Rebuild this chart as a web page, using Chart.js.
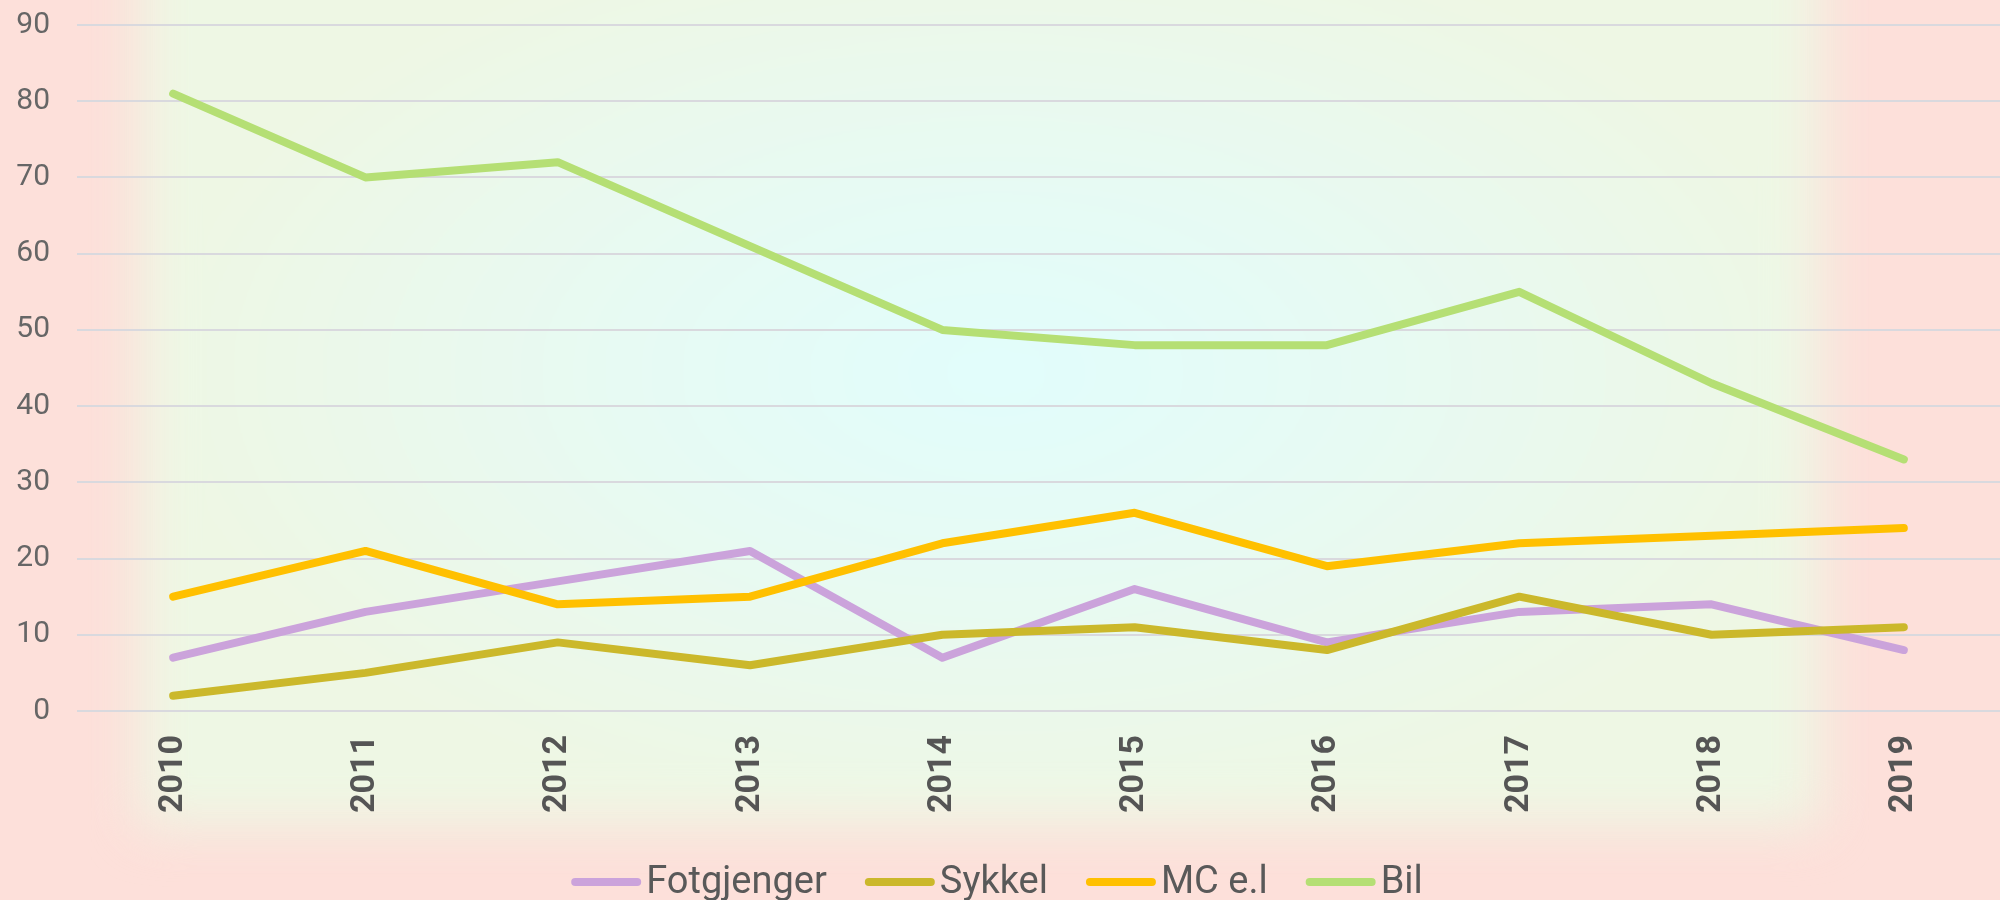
<!DOCTYPE html>
<html><head><meta charset="utf-8">
<script src="https://cdn.jsdelivr.net/npm/chart.js@4.4.1/dist/chart.umd.min.js"></script>
<style>
html,body{margin:0;padding:0;width:2000px;height:900px;overflow:hidden;background:#fde0da;}
#bg{position:absolute;left:140px;top:-80px;width:1680px;height:905px;filter:blur(26px);
background:radial-gradient(ellipse 50% 50% at 51% 50%, #e1fdfc 0%, #e7faf3 45%, #eef7e4 100%);}
#wrap{position:absolute;left:0;top:0;width:2000px;height:900px;}
</style></head><body>
<div id="bg"></div>
<div id="wrap"><canvas id="c" width="2000" height="900"></canvas></div>
<script>
const categories = ['2010','2011','2012','2013','2014','2015','2016','2017','2018','2019'];
const fotgjenger = [7,13,17,21,7,16,9,13,14,8];
const sykkel = [2,5,9,6,10,11,8,15,10,11];
const mcEl = [15,21,14,15,22,26,19,22,23,24];
const bil = [81,70,72,61,50,48,48,55,43,33];
const seriesNames = ['Fotgjenger','Sykkel','MC e.l','Bil'];
const seriesColors = ['#cba3db','#cbb82b','#ffc000','#b5df74'];
const yMin = 0, yMax = 90, yStep = 10;

const legendPlugin = {
  id: 'customLegend',
  afterDraw(chart) {
    const ctx = chart.ctx;
    ctx.save();
    ctx.font = '38px Roboto';
    const items = chart.data.datasets.map(d => ({label: d.label, color: d.borderColor, w: ctx.measureText(d.label).width}));
    const lineLen = 70, gapT = 5, gapI = 38;
    const total = items.reduce((s, it) => s + lineLen + gapT + it.w, 0) + gapI * (items.length - 1);
    let x = 997 - total / 2;
    const yLine = 882, yText = 893;
    items.forEach(it => {
      ctx.strokeStyle = it.color;
      ctx.lineWidth = 8;
      ctx.lineCap = 'round';
      ctx.beginPath();
      ctx.moveTo(x + 4, yLine);
      ctx.lineTo(x + lineLen - 4, yLine);
      ctx.stroke();
      x += lineLen + gapT;
      ctx.fillStyle = '#595959';
      ctx.textBaseline = 'alphabetic';
      ctx.textAlign = 'left';
      ctx.fillText(it.label, x, yText);
      x += it.w + gapI;
    });
    ctx.restore();
  }
};

const seriesData = [fotgjenger, sykkel, mcEl, bil];
new Chart(document.getElementById('c'), {
  type: 'line',
  data: {
    labels: categories,
    datasets: seriesNames.map((name, i) => ({
      label: name,
      data: seriesData[i],
      borderColor: seriesColors[i],
      backgroundColor: seriesColors[i],
      borderWidth: 8,
      borderCapStyle: 'round',
      borderJoinStyle: 'round',
      pointRadius: 0,
      tension: 0,
      fill: false,
      order: seriesNames.length - i
    }))
  },
  options: {
    responsive: false,
    animation: false,
    devicePixelRatio: 1,
    layout: {padding: {left: 17, right: 0, top: 25, bottom: 88}},
    plugins: {legend: {display: false}, tooltip: {enabled: false}},
    scales: {
      x: {
        offset: true,
        grid: {display: false, drawTicks: false},
        border: {display: false},
        afterFit(s) { s.height = 101; s.paddingLeft = 0; s.paddingRight = 0; },
        ticks: {
          minRotation: 90, maxRotation: 90, padding: 24,
          color: '#555555',
          font: {family: 'Roboto', size: 34, weight: 'bold'}
        }
      },
      y: {
        min: yMin, max: yMax,
        grid: {color: '#d9d9de', lineWidth: 2, drawTicks: false},
        border: {display: false},
        afterFit(s) { s.width = 60; s.paddingTop = 0; s.paddingBottom = 0; },
        ticks: {
          stepSize: yStep, padding: 27,
          color: '#666666',
          font: {family: 'Roboto', size: 30}
        }
      }
    }
  },
  plugins: [legendPlugin]
});
</script>
</body></html>
